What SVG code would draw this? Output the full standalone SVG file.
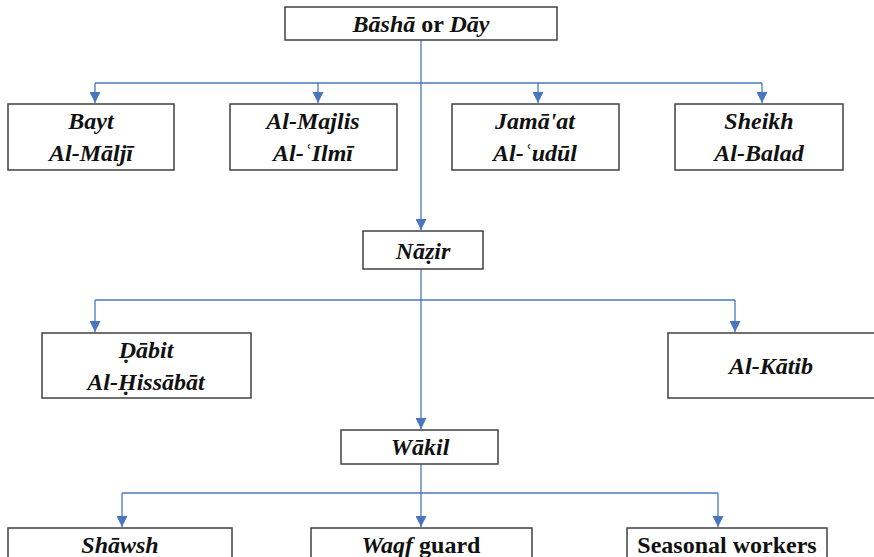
<svg xmlns="http://www.w3.org/2000/svg" width="874" height="557" viewBox="0 0 874 557">
<defs>
<style>
.box{fill:#fff;stroke:#404040;stroke-width:1.5}
.c{fill:none;stroke:#4a76c0;stroke-width:1.3}
text{font-family:"Liberation Serif","Times New Roman",serif;font-weight:bold;font-size:24px;text-anchor:middle;fill:#111}
.i{font-style:italic}
</style>
<marker id="ah" viewBox="0 0 10 10" markerWidth="11" markerHeight="11" markerUnits="userSpaceOnUse" refX="10" refY="5" orient="auto">
<path d="M0,0 L10,5 L0,10 z" fill="#4a76c0"/>
</marker>
</defs>
<rect width="874" height="557" fill="#fff"/>
<g id="connectors">
<path class="c" d="M421,40 V230" marker-end="url(#ah)"/>
<path class="c" d="M95,83 H762"/>
<path class="c" d="M95,83 V103" marker-end="url(#ah)"/>
<path class="c" d="M318,83 V103" marker-end="url(#ah)"/>
<path class="c" d="M538,83 V103" marker-end="url(#ah)"/>
<path class="c" d="M762,83 V103" marker-end="url(#ah)"/>
<path class="c" d="M421,269 V429" marker-end="url(#ah)"/>
<path class="c" d="M95,300 H735"/>
<path class="c" d="M95,300 V332" marker-end="url(#ah)"/>
<path class="c" d="M735,300 V332" marker-end="url(#ah)"/>
<path class="c" d="M421,464 V527" marker-end="url(#ah)"/>
<path class="c" d="M122,493 H718"/>
<path class="c" d="M122,493 V527" marker-end="url(#ah)"/>
<path class="c" d="M718,493 V527" marker-end="url(#ah)"/>
</g>
<g id="basha">
<rect class="box" x="285" y="7" width="272" height="33"/>
<text x="421" y="32"><tspan class="i">Bāshā</tspan> or <tspan class="i">Dāy</tspan></text>
</g>
<g id="bayt">
<rect class="box" x="8" y="104" width="166" height="66"/>
<text class="i" x="91" y="129">Bayt</text>
<text class="i" x="91" y="161">Al-Māljī</text>
</g>
<g id="majlis">
<rect class="box" x="230" y="104" width="167" height="66"/>
<text class="i" x="313" y="129">Al-Majlis</text>
<text class="i" x="313" y="161">Al-ʿIlmī</text>
</g>
<g id="jamaat">
<rect class="box" x="452" y="104" width="167" height="66"/>
<text class="i" x="535" y="129">Jamā'at</text>
<text class="i" x="535" y="161">Al-ʿudūl</text>
</g>
<g id="sheikh">
<rect class="box" x="675" y="104" width="168" height="66"/>
<text class="i" x="759" y="129">Sheikh</text>
<text class="i" x="759" y="161">Al-Balad</text>
</g>
<g id="nazir">
<rect class="box" x="363" y="231" width="120" height="38"/>
<text class="i" x="423" y="259">Nāẓir</text>
</g>
<g id="dabit">
<rect class="box" x="42" y="333" width="209" height="65"/>
<text class="i" x="146" y="358">Ḍābit</text>
<text class="i" x="146" y="390">Al-Ḥissābāt</text>
</g>
<g id="katib">
<rect class="box" x="668" y="333" width="210" height="65"/>
<text class="i" x="771" y="374">Al-Kātib</text>
</g>
<g id="wakil">
<rect class="box" x="341" y="430" width="157" height="34"/>
<text class="i" x="420" y="455">Wākil</text>
</g>
<g id="shawsh">
<rect class="box" x="8" y="528" width="224" height="35"/>
<text class="i" x="120" y="553">Shāwsh</text>
</g>
<g id="waqf">
<rect class="box" x="311" y="528" width="221" height="35"/>
<text x="421" y="553"><tspan class="i">Waqf</tspan> guard</text>
</g>
<g id="seasonal">
<rect class="box" x="627" y="528" width="200" height="35"/>
<text x="727" y="553">Seasonal workers</text>
</g>
</svg>
